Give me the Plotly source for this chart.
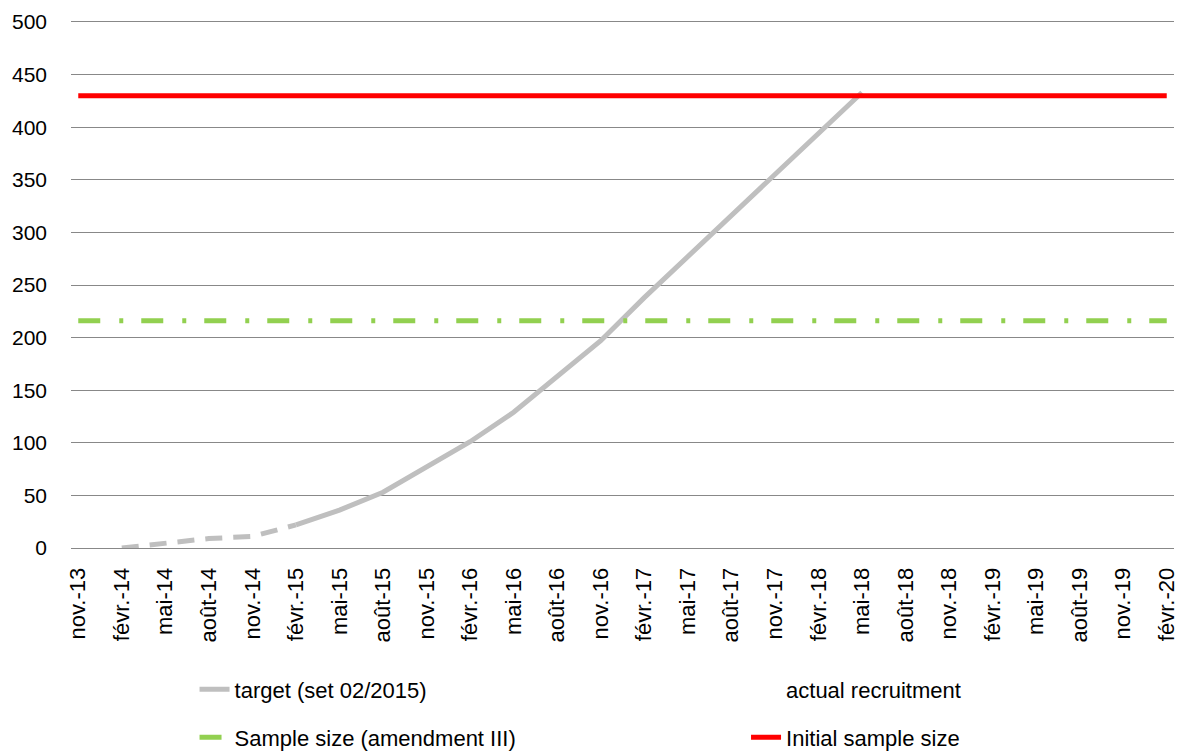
import plotly.graph_objects as go

# Monthly category axis: nov.-13 .. févr.-20
month_names = ["janv.", "févr.", "mars", "avr.", "mai", "juin",
               "juil.", "août", "sept.", "oct.", "nov.", "déc."]
start_year, start_month, n_months = 2013, 11, 76

categories = []
for k in range(n_months):
    m = (start_month - 1 + k) % 12
    y = start_year + (start_month - 1 + k) // 12
    categories.append(f"{month_names[m]}-{y % 100:02d}")

# Recruitment target (set 02/2015), quarterly points
target_dates = ["févr.-14", "mai-14", "août-14", "nov.-14", "févr.-15",
                "mai-15", "août-15", "nov.-15", "févr.-16", "mai-16",
                "août-16", "nov.-16", "févr.-17", "mai-17", "août-17",
                "nov.-17", "févr.-18", "mai-18"]
target_values = [0, 5, 9, 11, 22, 36, 53, 77, 101, 129,
                 163, 197, 238, 277, 315, 354, 393, 433]
dashed_until = "févr.-15"   # early section drawn dashed

sample_size_amendment = 216
initial_sample_size = 430

split = target_dates.index(dashed_until)

font_family = "Liberation Sans, Arial, sans-serif"
grid_color = "#888888"

fig = go.Figure()

fig.add_trace(go.Scatter(
    x=target_dates[:split + 1], y=target_values[:split + 1],
    mode="lines", line=dict(color="#BFBFBF", width=5, dash="17px,11px"),
    showlegend=False, hoverinfo="skip"))

fig.add_trace(go.Scatter(
    x=target_dates[split:], y=target_values[split:],
    mode="lines", line=dict(color="#BFBFBF", width=5),
    name="target (set 02/2015)", legend="legend", showlegend=True,
    hoverinfo="skip"))

# no recruitment recorded yet: legend entry only
fig.add_trace(go.Scatter(
    x=[categories[0]], y=[None], mode="lines",
    line=dict(color="rgba(0,0,0,0)", width=5),
    name="actual recruitment", legend="legend2", showlegend=True,
    hoverinfo="skip"))

fig.add_trace(go.Scatter(
    x=[categories[0], categories[-1]],
    y=[sample_size_amendment, sample_size_amendment],
    mode="lines", line=dict(color="#92D050", width=5, dash="22px,19px,4px,18px"),
    name="Sample size (amendment III)", legend="legend3", showlegend=True,
    hoverinfo="skip"))

fig.add_trace(go.Scatter(
    x=[categories[0], categories[-1]],
    y=[initial_sample_size, initial_sample_size],
    mode="lines", line=dict(color="#FF0000", width=5),
    name="Initial sample size", legend="legend4", showlegend=True,
    hoverinfo="skip"))

legend_common = dict(font=dict(family=font_family, size=22, color="#000000"),
                     bgcolor="rgba(0,0,0,0)", xanchor="left", yanchor="middle",
                     orientation="v", visible=True)

fig.update_layout(
    width=1178, height=752,
    showlegend=True,
    margin=dict(l=71, r=4, t=22, b=204, autoexpand=False),
    paper_bgcolor="white", plot_bgcolor="white",
    font=dict(family=font_family, size=21, color="#000000"),
    xaxis=dict(
        type="category", categoryorder="array", categoryarray=categories,
        range=[-0.5, n_months - 0.5], tickmode="linear", tick0=0, dtick=3,
        tickangle=-90, showgrid=False, zeroline=False,
        showline=True, mirror=True, linecolor=grid_color, linewidth=1,
        ticks="", ticklabelstandoff=10, ticklabelshift=0, automargin=False,
        tickfont=dict(family=font_family, size=22, color="#000000")),
    yaxis=dict(
        range=[0, 500], dtick=50, showgrid=True, gridcolor=grid_color,
        gridwidth=1, zeroline=False, showline=False, ticks="",
        ticklabelstandoff=23, automargin=False,
        tickfont=dict(family=font_family, size=21, color="#000000")),
    legend=dict(x=0.112, y=-0.269, **legend_common),
    legend2=dict(x=0.612, y=-0.269, **legend_common),
    legend3=dict(x=0.112, y=-0.36, **legend_common),
    legend4=dict(x=0.612, y=-0.36, **legend_common),
)

fig.write_html("out.html")
